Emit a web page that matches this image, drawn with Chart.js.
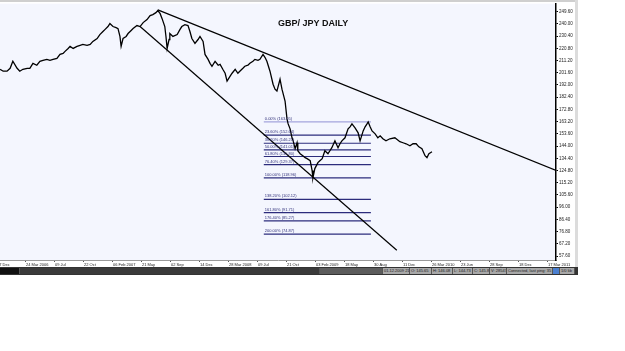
<!DOCTYPE html>
<html>
<head>
<meta charset="utf-8">
<script src="https://cdn.jsdelivr.net/npm/chart.js@4.4.0/dist/chart.umd.min.js"></script>
<style>
  body { margin: 0; background: #fff; width: 625px; height: 351px; overflow: hidden; position: relative; font-family: "Liberation Sans", Arial, sans-serif; }
  #wrap { position: absolute; left: 0; top: 0; width: 582px; height: 267px; }
  #status { position: absolute; left: 0; top: 267px; width: 578px; height: 8px; background: #333; }
  #status span { position: absolute; top: 1px; height: 6px; background: #a8a8a8; color: #222; font-size: 4px; line-height: 6px; white-space: nowrap; overflow: hidden; padding-left: 1px; box-sizing: border-box; border-right: 1px solid #555; }
</style>
</head>
<body>
<div id="wrap"><canvas id="chart" width="582" height="267"></canvas></div>
<div id="status">
  <span style="left:0;width:20px;background:#111"></span>
  <span style="left:20px;width:300px;background:#3a3a3a"></span>
  <span style="left:320px;width:63px;background:#5c5c5c"></span>
  <span style="left:383px;width:27px">01.12.2009 21:00</span>
  <span style="left:410px;width:22px">O: 145.65</span>
  <span style="left:432px;width:21px">H: 146.08</span>
  <span style="left:453px;width:20px">L: 144.73</span>
  <span style="left:473px;width:17px">C: 145.87</span>
  <span style="left:490px;width:17px">V: 28547</span>
  <span style="left:507px;width:46px">Connected, last ping: 35 ms</span>
  <span style="left:553px;width:7px;background:#4a7fd0"></span>
  <span style="left:560px;width:15px">1/0 kb</span>
</div>
<script>
// axis labels
const tickLabels = ["07 Dec", "24 Mar 2006", "09 Jul", "22 Oct", "06 Feb 2007", "21 May", "02 Sep", "14 Dec",
  "28 Mar 2008", "09 Jul", "21 Oct", "03 Feb 2009", "18 May", "30 Aug", "11 Dec", "26 Mar 2010",
  "23 Jun", "28 Sep", "18 Dec", "17 Mar 2011"];
const tickBars = tickLabels.map((_, i) => i * 75); // one label every 75 daily bars
const priceTicks = [249.6, 240.0, 230.4, 220.8, 211.2, 201.6, 192.0, 182.4, 172.8, 163.2, 153.6,
  144.0, 134.4, 124.8, 115.2, 105.6, 96.0, 86.4, 76.8, 67.2, 57.6];

// GBP/JPY daily, bar number and price
const bars = [8, 16, 26, 34, 41, 52, 59, 67, 78, 85, 93, 103, 111, 119, 129, 137, 145, 155, 163, 171,
  176, 184, 189, 197, 207, 215, 222, 233, 241, 248, 259, 266, 274, 279, 287, 292, 300, 308, 313, 318,
  321, 326, 334, 339, 347, 352, 362, 370, 378, 388, 396, 403, 411, 416, 422, 427, 434, 437, 440, 445,
  447, 455, 466, 473, 478, 486, 494, 499, 504, 512, 520, 525, 533, 538, 546, 551, 556, 564, 572, 577,
  584, 590, 595, 603, 608, 616, 623, 628, 636, 641, 649, 654, 662, 667, 675, 680, 688, 693, 698, 706,
  714, 719, 724, 732, 737, 745, 750, 753, 758, 763, 766, 771, 776, 778, 784, 791, 797, 802, 810, 815,
  817, 822, 830, 835, 841, 848, 856, 861, 866, 874, 882, 887, 892, 900, 908, 913, 918, 926, 934, 939,
  947, 952, 957, 960, 965, 970, 978, 985, 991, 998, 1006, 1016, 1029, 1042, 1050, 1058, 1068, 1076, 1084, 1091,
  1099, 1107, 1112, 1117, 1125];
const prices = [204.3, 202.8, 202.8, 205.1, 210.6, 205.1, 202.8, 204.3, 205.1, 205.1, 209.0, 207.5, 210.6, 211.3, 212.1, 211.3, 212.1, 212.9, 216.0, 216.8,
  218.4, 220.7, 222.3, 220.7, 222.3, 223.1, 223.8, 223.1, 223.8, 226.2, 228.5, 231.6, 234.0, 235.5, 237.9, 240.2, 237.9, 237.1, 236.3, 230.1,
  222.3, 228.5, 230.1, 232.4, 234.8, 236.3, 238.7, 237.9, 241.0, 243.4, 246.5, 247.3, 248.8, 250.4, 248.0, 244.1, 237.9, 230.1, 220.7, 227.7,
  232.4, 230.1, 231.6, 235.5, 237.9, 239.4, 238.7, 234.0, 228.5, 224.6, 227.7, 230.1, 226.2, 216.0, 212.1, 209.0, 206.7, 210.6, 207.5, 208.2,
  204.3, 201.2, 195.0, 198.9, 201.2, 204.3, 201.2, 202.8, 205.1, 206.7, 207.5, 209.0, 210.6, 212.1, 211.3, 212.1, 216.0, 213.7, 210.6, 202.8,
  192.6, 188.7, 187.2, 196.5, 188.7, 179.4, 165.3, 161.4, 157.5, 150.5, 148.1, 141.9, 146.6, 140.3, 138.0, 136.4, 134.9, 134.1, 132.5, 124.7,
  119.0, 126.3, 131.0, 132.5, 134.1, 140.3, 138.0, 140.3, 142.7, 148.1, 142.7, 145.8, 148.1, 150.5, 157.5, 159.1, 161.4, 158.3, 154.4, 148.1,
  155.9, 159.1, 161.4, 162.9, 159.1, 155.9, 153.6, 150.5, 152.0, 149.7, 148.1, 149.7, 150.5, 147.4, 146.6, 145.8, 144.2, 145.8, 145.8, 143.4,
  141.9, 136.4, 134.9, 138.0, 139.5];

// trend lines
const upperBars = [416, 1446];
const upperPrices = [251.0, 124.8];
const lowerBars = [370, 1034];
const lowerPrices = [237.9, 62.1];

// fibonacci levels
const fibFrom = 690, fibTo = 967;
const fibPct = [0, 23.6, 38.2, 50, 61.8, 76.4, 100, 138.2, 161.8, 176.4, 200];
const fibPrice = [163.05, 152.64, 146.21, 141.01, 135.80, 129.37, 118.96, 102.12, 91.71, 85.27, 74.87];

const pts = (xs, ys) => xs.map((x, i) => ({ x: x, y: ys[i] }));

const datasets = [
  { data: pts(bars, prices), borderColor: '#000', borderWidth: 1.3 },
  { data: pts(upperBars, upperPrices), borderColor: '#000', borderWidth: 1.2 },
  { data: pts(lowerBars, lowerPrices), borderColor: '#000', borderWidth: 1.2 }
];
fibPrice.forEach((v, i) => {
  datasets.push({
    data: pts([fibFrom, fibTo], [v, v]),
    borderColor: i === 0 ? '#a4a4dc' : '#2c2c7c',
    borderWidth: 1.2
  });
});

const backdrop = {
  id: 'backdrop',
  beforeDraw(chart) {
    const { ctx, chartArea: a } = chart;
    ctx.save();
    ctx.fillStyle = '#fff';
    ctx.fillRect(0, 0, chart.width, chart.height);
    ctx.fillStyle = '#f4f6fe';
    ctx.fillRect(a.left, a.top, a.right - a.left, a.bottom - a.top);
    ctx.fillStyle = '#cfcfcf';
    ctx.fillRect(0, 0, 578, 2);
    ctx.fillStyle = '#dcdcdc';
    ctx.fillRect(575, 0, 3, chart.height);
    ctx.restore();
  }
};

const annotate = {
  id: 'annotate',
  afterDatasetsDraw(chart) {
    const { ctx, scales: { x, y } } = chart;
    ctx.save();
    ctx.font = '4px "Liberation Sans", Arial, sans-serif';
    ctx.fillStyle = '#30307a';
    ctx.textBaseline = 'bottom';
    fibPrice.forEach((v, i) => {
      ctx.fillText(fibPct[i].toFixed(2) + '% (' + v.toFixed(2) + ')', x.getPixelForValue(fibFrom) + 1, y.getPixelForValue(v) - 1);
    });
    ctx.font = 'bold 9px "Liberation Sans", Arial, sans-serif';
    ctx.fillStyle = '#111';
    ctx.textBaseline = 'alphabetic';
    ctx.fillText('GBP/ JPY DAILY', 278, 25.5);
    ctx.restore();
  }
};

new Chart(document.getElementById('chart'), {
  type: 'line',
  data: { datasets: datasets },
  options: {
    responsive: false,
    animation: false,
    events: [],
    layout: { padding: { top: 2, left: 0, right: 0, bottom: 0 } },
    elements: { point: { radius: 0 }, line: { tension: 0 } },
    plugins: { legend: { display: false }, tooltip: { enabled: false } },
    scales: {
      x: {
        type: 'linear', min: 7.8, max: 1445.7,
        afterBuildTicks: s => { s.ticks = tickBars.map(v => ({ value: v })); },
        afterFit: s => { s.height = 7; s.paddingLeft = 0; s.paddingRight = 0; },
        grid: { drawOnChartArea: false, tickLength: 2, color: '#555' },
        border: { color: '#9a9a9a', width: 1 },
        ticks: {
          autoSkip: false, maxRotation: 0, align: 'start', padding: 0,
          color: '#222', font: { size: 4, family: '"Liberation Sans", Arial, sans-serif' },
          callback: (v, i) => tickLabels[i]
        }
      },
      y: {
        type: 'linear', position: 'right', min: 54.48, max: 255.84,
        afterBuildTicks: s => { s.ticks = priceTicks.map(v => ({ value: v })); },
        afterFit: s => { s.width = 26; },
        grid: { drawOnChartArea: false, tickLength: 2, color: '#000' },
        border: { color: '#000', width: 1.5 },
        ticks: {
          padding: 1, color: '#222', font: { size: 4.5, family: '"Liberation Sans", Arial, sans-serif' },
          callback: v => v.toFixed(2)
        }
      }
    }
  },
  plugins: [backdrop, annotate]
});
</script>
</body>
</html>
